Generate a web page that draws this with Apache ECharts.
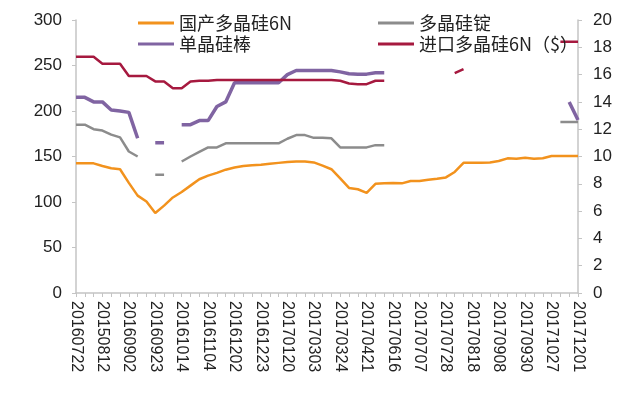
<!DOCTYPE html>
<html>
<head>
<meta charset="utf-8">
<script src="https://cdn.jsdelivr.net/npm/echarts@6.0.0/dist/echarts.min.js"></script>
<style>
  html, body { margin: 0; padding: 0; background: #fff; }
  #chart { width: 642px; height: 398px; }
</style>
</head>
<body>
<div id="chart"></div>
<script>
// 日期（每3个显示一个标签）
const categories = [
  '20160722', '20160729', '20160805', '20150812', '20160819', '20160826',
  '20160902', '20160909', '20160914', '20160923', '20160930', '20161009',
  '20161014', '20161021', '20161028', '20161104', '20161111', '20161118',
  '20161202', '20161209', '20161216', '20161223', '20161230', '20170113',
  '20170120', '20170210', '20170224', '20170303', '20170310', '20170317',
  '20170324', '20170331', '20170414', '20170421', '20170428', '20170512',
  '20170616', '20170623', '20170630', '20170707', '20170714', '20170721',
  '20170728', '20170804', '20170811', '20170818', '20170825', '20170901',
  '20170908', '20170915', '20170922', '20170930', '20171013', '20171020',
  '20171027', '20171103', '20171117', '20171201'
];

// 国产多晶硅6N（左轴）
const domesticPoly = [
  142.5, 142.5, 142.5, 139.5, 137, 136, 121, 107, 100.5, 88,
  96, 105, 111, 118, 125, 129, 132, 135.5, 138, 139.5,
  140.5, 141, 142, 143, 144, 144.5, 144.5, 143.5, 140, 136,
  126, 115.5, 114, 110, 120, 120.5, 121, 120.5, 123, 123,
  124.5, 125.5, 127, 133, 143, 143, 143, 143.5, 145, 148,
  147.5, 148.5, 147.5, 148, 150.5, 150.5, 150.5, 150.5
];

// 多晶硅锭（左轴）
const polyIngot = [
  185, 185, 180, 178.5, 174, 171, 155.5, 150, null, 130,
  130, null, 144.5, 150, 155, 160, 160, 164.5, 164.5, 164.5,
  164.5, 164.5, 164.5, 164.5, 169.5, 173.5, 173.5, 170.5, 170.5, 170,
  160, 160, 160, 160, 162.5, 162.5, null, null, null, null,
  null, null, null, null, null, null, null, null, null, null,
  null, null, null, null, null, 188, 188, 188
];

// 单晶硅棒（左轴）
const monoRod = [
  215, 215, 210, 210, 201, 200, 198.5, 170, null, 165,
  165, null, 185, 185, 189.5, 189.5, 205, 210, 231, 231,
  231, 231, 231, 231, 240, 244.5, 244.5, 244.5, 244.5, 244.5,
  243, 241, 240.5, 240.5, 242, 242, null, null, null, null,
  null, null, null, null, null, null, null, null, null, null,
  null, null, null, null, null, null, 210, 190
];

// 进口多晶硅6N（$，右轴）
const importPoly = [
  17.3, 17.3, 17.3, 16.8, 16.8, 16.8, 15.9, 15.9, 15.9, 15.5,
  15.5, 15.0, 15.0, 15.5, 15.55, 15.55, 15.6, 15.6, 15.6, 15.6,
  15.6, 15.6, 15.6, 15.6, 15.6, 15.6, 15.6, 15.6, 15.6, 15.6,
  15.55, 15.35, 15.3, 15.3, 15.55, 15.55, null, null, null, null,
  null, null, null, 16.1, 16.4, null, null, null, null, null,
  null, null, null, null, null, 18.4, 18.4, 18.4
];

const chart = echarts.init(document.getElementById('chart'));

const axisColor = '#c4c4c4';
const labelFont = { fontFamily: 'Liberation Sans, Arial, sans-serif', color: '#222' };
const legendText = { fontFamily: 'Noto Sans CJK SC', fontSize: 18, color: '#222' };

function lineSeries (name, data, color, width, yIndex) {
  return {
    name,
    type: 'line',
    data,
    yAxisIndex: yIndex,
    symbol: 'none',
    connectNulls: false,
    lineStyle: { color, width },
    itemStyle: { color }
  };
}

chart.setOption({
  animation: false,
  backgroundColor: '#fff',
  legend: [{
    left: 138,
    top: 14,
    padding: 0,
    orient: 'vertical',
    icon: 'rect',
    itemWidth: 36,
    itemHeight: 3,
    itemGap: 3,
    textStyle: legendText,
    data: ['国产多晶硅6N', '单晶硅棒']
  }, {
    left: 378,
    top: 14,
    padding: 0,
    orient: 'vertical',
    icon: 'rect',
    itemWidth: 36,
    itemHeight: 3,
    itemGap: 3,
    textStyle: legendText,
    data: ['多晶硅锭', '进口多晶硅6N（$）']
  }],
  grid: {
    left: 76,
    right: 64,
    top: 20,
    bottom: 105,
    containLabel: false,
    outerBoundsMode: 'none'
  },
  xAxis: {
    type: 'category',
    data: categories,
    boundaryGap: false,
    axisLine: { lineStyle: { color: axisColor, width: 1.5 } },
    axisTick: { interval: 0, length: 4, lineStyle: { color: axisColor } },
    axisLabel: Object.assign({ interval: 2, rotate: -90, margin: 8, fontSize: 16 }, labelFont),
    splitLine: { show: false }
  },
  yAxis: [{
    type: 'value',
    min: 0,
    max: 300,
    interval: 50,
    axisLine: { show: true, lineStyle: { color: axisColor, width: 1.5 } },
    axisTick: { show: true, length: 4, lineStyle: { color: axisColor } },
    axisLabel: Object.assign({ fontSize: 17, margin: 14 }, labelFont),
    splitLine: { show: false }
  }, {
    type: 'value',
    position: 'right',
    min: 0,
    max: 20,
    interval: 2,
    axisLine: { show: true, lineStyle: { color: axisColor, width: 1.5 } },
    axisTick: { show: true, length: 4, lineStyle: { color: axisColor } },
    axisLabel: Object.assign({ fontSize: 17, margin: 15 }, labelFont),
    splitLine: { show: false }
  }],
  series: [
    lineSeries('国产多晶硅6N', domesticPoly, '#f2921d', 2.5, 0),
    lineSeries('多晶硅锭', polyIngot, '#8c8c8c', 2.5, 0),
    lineSeries('单晶硅棒', monoRod, '#8064a2', 3.5, 0),
    lineSeries('进口多晶硅6N（$）', importPoly, '#a6193f', 2.5, 1)
  ]
});
</script>
</body>
</html>
